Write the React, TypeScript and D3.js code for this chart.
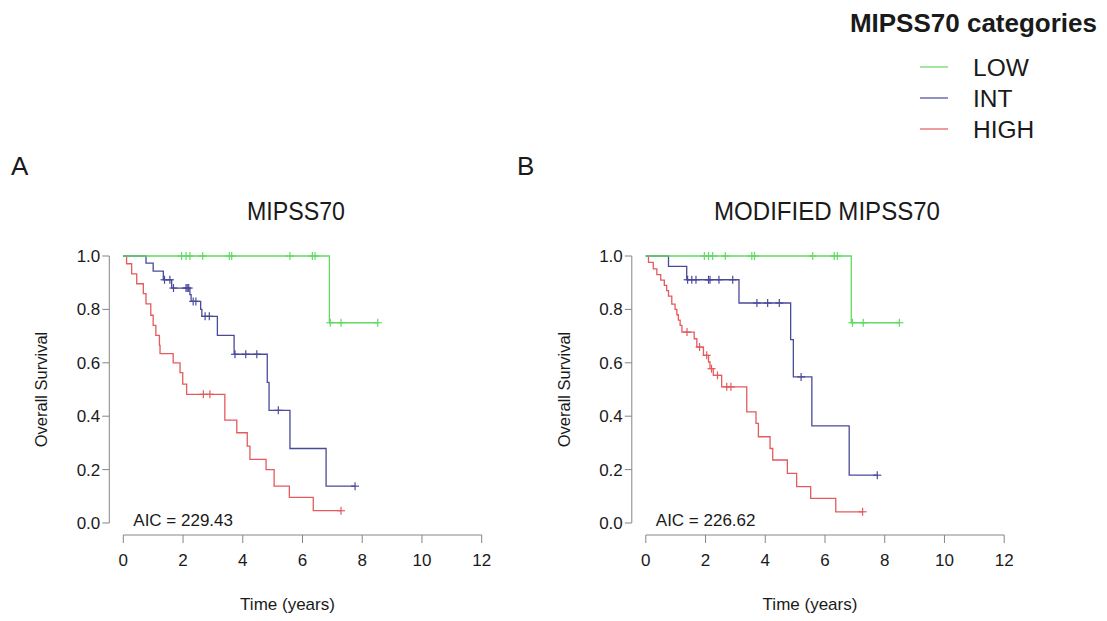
import React from "react";
import * as d3 from "d3";

// ---------- data ----------
const xTicks = [0, 2, 4, 6, 8, 10, 12];
const yTicks = [0, 0.2, 0.4, 0.6, 0.8, 1.0];
const categories = ["LOW", "INT", "HIGH"];
const colors = ["#62d962", "#4a4a9a", "#e45a5e"];
const panelTitles = ["MIPSS70", "MODIFIED MIPSS70"];
const panelLetters = ["A", "B"];
const aicLabels = ["AIC = 229.43", "AIC = 226.62"];

// Panel A
const aLowT = [6.9];
const aLowS = [0.75];
const aLowCens = [1.95, 2.1, 2.23, 2.66, 3.55, 3.63, 5.58, 6.33, 6.42, 6.93, 7.29, 8.52];
const aLowEnd = 8.52;

const aIntT = [0.76, 1.0, 1.34, 1.62, 2.23, 2.27, 2.59, 2.63, 3.15, 3.71, 4.82, 4.88, 5.58, 6.79];
const aIntS = [0.973, 0.943, 0.911, 0.88, 0.855, 0.83, 0.8, 0.774, 0.703, 0.632, 0.527, 0.422, 0.279, 0.138];
const aIntCens = [1.38, 1.56, 1.68, 2.1, 2.14, 2.19, 2.34, 2.43, 2.74, 2.88, 3.74, 4.1, 4.47, 5.19, 7.76];
const aIntEnd = 7.76;

const aHighT = [0.11, 0.28, 0.45, 0.67, 0.76, 0.92, 1.0, 1.09, 1.21, 1.23, 1.67, 1.9, 1.99, 2.12, 3.4, 3.8, 4.15, 4.24, 4.78, 5.05, 5.56, 6.36];
const aHighS = [0.971, 0.933, 0.896, 0.859, 0.821, 0.778, 0.74, 0.703, 0.665, 0.634, 0.6, 0.563, 0.52, 0.482, 0.385, 0.338, 0.288, 0.238, 0.2, 0.138, 0.096, 0.046];
const aHighCens = [2.68, 2.9, 7.29];
const aHighEnd = 7.29;

// Panel B
const bLowT = [6.88];
const bLowS = [0.75];
const bLowCens = [1.96, 2.1, 2.24, 2.66, 3.55, 3.64, 5.59, 6.31, 6.41, 6.92, 7.28, 8.49];
const bLowEnd = 8.49;

const bIntT = [0.76, 1.37, 3.12, 4.85, 4.94, 5.56, 6.81];
const bIntS = [0.961, 0.911, 0.824, 0.687, 0.547, 0.364, 0.179];
const bIntCens = [1.4, 1.54, 1.68, 2.1, 2.15, 2.45, 2.91, 3.72, 4.08, 4.47, 5.2, 7.75];
const bIntEnd = 7.75;

const bHighT = [0.09, 0.25, 0.37, 0.5, 0.62, 0.7, 0.76, 0.87, 0.98, 1.04, 1.09, 1.15, 1.21, 1.62, 1.71, 1.93, 2.1, 2.15, 2.26, 2.54, 3.38, 3.69, 3.77, 4.16, 4.25, 4.74, 5.05, 5.52, 6.36];
const bHighS = [0.976, 0.952, 0.93, 0.91, 0.89, 0.87, 0.85, 0.82, 0.8, 0.78, 0.76, 0.74, 0.715, 0.69, 0.659, 0.628, 0.603, 0.578, 0.553, 0.51, 0.416, 0.373, 0.323, 0.279, 0.236, 0.186, 0.136, 0.092, 0.042];
const bHighCens = [1.38, 1.8, 2.04, 2.2, 2.4, 2.71, 2.85, 7.26];
const bHighEnd = 7.26;

type Series = { t: number[]; s: number[]; cens: number[]; end: number };

const panels: Series[][] = [
  [
    { t: aLowT, s: aLowS, cens: aLowCens, end: aLowEnd },
    { t: aIntT, s: aIntS, cens: aIntCens, end: aIntEnd },
    { t: aHighT, s: aHighS, cens: aHighCens, end: aHighEnd },
  ],
  [
    { t: bLowT, s: bLowS, cens: bLowCens, end: bLowEnd },
    { t: bIntT, s: bIntS, cens: bIntCens, end: bIntEnd },
    { t: bHighT, s: bHighS, cens: bHighCens, end: bHighEnd },
  ],
];

const FONT = "'Liberation Sans', Arial, sans-serif";
const TEXT = "#1a1a1a";
const AXIS = "#858585";

function survAt(ser: Series, time: number) {
  let v = 1;
  for (let i = 0; i < ser.t.length; i++) if (ser.t[i] <= time) v = ser.s[i];
  return v;
}

function Panel({ idx }: { idx: number }) {
  const off = idx * 522.5;
  const x = d3.scaleLinear().domain([0, 12]).range([123.3 + off, 481.7 + off]);
  const y = d3.scaleLinear().domain([0, 1]).range([523, 256]);
  const axisX = 109.3 + off;
  const axisY = 535;
  const line = d3
    .line<[number, number]>()
    .x((d) => x(d[0]))
    .y((d) => y(d[1]))
    .curve(d3.curveStepAfter);
  const series = panels[idx];
  const titleLen = [98, 226];
  const titleX = [247, 714];
  const letterX = [11, 517];
  return (
    <g>
      <text x={letterX[idx]} y={175} fontFamily={FONT} fontSize={26} fill={TEXT}>
        {panelLetters[idx]}
      </text>
      <text
        x={titleX[idx]}
        y={220}
        fontFamily="'Liberation Sans Narrow', 'Liberation Sans', Arial, sans-serif"
        fontSize={25}
        fill={TEXT}
        textLength={titleLen[idx]}
        lengthAdjust="spacingAndGlyphs"
      >
        {panelTitles[idx]}
      </text>
      {/* y axis */}
      <line x1={axisX} x2={axisX} y1={y(0)} y2={y(1)} stroke={AXIS} strokeWidth={1} />
      {yTicks.map((v) => (
        <g key={"y" + v}>
          <line x1={axisX - 7} x2={axisX} y1={y(v)} y2={y(v)} stroke={AXIS} />
          <text x={axisX - 9} y={y(v) + 6} textAnchor="end" fontFamily={FONT} fontSize={17} fill={TEXT}>
            {d3.format(".1f")(v)}
          </text>
        </g>
      ))}
      <text
        transform={`translate(${47 + off},${389.5}) rotate(-90)`}
        textAnchor="middle"
        fontFamily={FONT}
        fontSize={16.5}
        fill={TEXT}
      >
        Overall Survival
      </text>
      {/* x axis */}
      <line x1={x(0)} x2={x(12)} y1={axisY} y2={axisY} stroke={AXIS} />
      {xTicks.map((v) => (
        <g key={"x" + v}>
          <line x1={x(v)} x2={x(v)} y1={axisY} y2={axisY + 8} stroke={AXIS} />
          <text x={x(v)} y={566} textAnchor="middle" fontFamily={FONT} fontSize={17} fill={TEXT}>
            {v}
          </text>
        </g>
      ))}
      <text x={287.5 + off} y={610} textAnchor="middle" fontFamily={FONT} fontSize={17} fill={TEXT}>
        Time (years)
      </text>
      <text x={133.3 + off} y={526} fontFamily={FONT} fontSize={17} fill={TEXT}>
        {aicLabels[idx]}
      </text>
      {/* curves, HIGH drawn first so LOW is on top */}
      {[2, 1, 0].map((k) => {
        const ser = series[k];
        const pts: [number, number][] = [[0, 1]];
        ser.t.forEach((t, i) => pts.push([t, ser.s[i]]));
        pts.push([ser.end, ser.s[ser.s.length - 1]]);
        return (
          <g key={"s" + k}>
            <path d={line(pts) || ""} fill="none" stroke={colors[k]} strokeWidth={1.3} />
            {ser.cens.map((c, j) => {
              const cx = x(c);
              const cy = y(survAt(ser, c));
              return (
                <g key={j} stroke={colors[k]} strokeWidth={1.2}>
                  <line x1={cx - 4} x2={cx + 4} y1={cy} y2={cy} />
                  <line x1={cx} x2={cx} y1={cy - 4} y2={cy + 4} />
                </g>
              );
            })}
          </g>
        );
      })}
    </g>
  );
}

export default function App() {
  return (
    <svg width={1107} height={621} style={{ display: "block", position: "absolute", left: 0, top: 0 }}>
      <rect width={1107} height={621} fill="#ffffff" />
      <Panel idx={0} />
      <Panel idx={1} />
      {/* legend */}
      <text x={1097} y={32} textAnchor="end" fontFamily={FONT} fontWeight="bold" fontSize={26} fill={TEXT}>
        MIPSS70 categories
      </text>
      {categories.map((c, i) => (
        <g key={c}>
          <line x1={920} x2={948} y1={67 + i * 31} y2={67 + i * 31} stroke={colors[i]} strokeWidth={1.5} opacity={0.8} />
          <text x={973} y={76 + i * 31} fontFamily={FONT} fontSize={24.5} fill={TEXT}>
            {c}
          </text>
        </g>
      ))}
    </svg>
  );
}
